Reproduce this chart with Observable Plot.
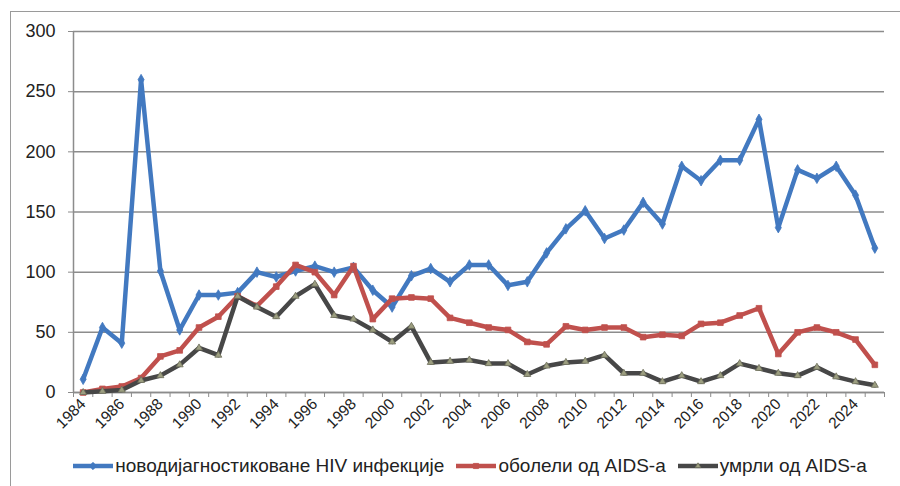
<!DOCTYPE html>
<html>
<head>
<meta charset="utf-8">
<script src="https://cdn.jsdelivr.net/npm/d3@7"></script>
<script src="https://cdn.jsdelivr.net/npm/@observablehq/plot@0.6"></script>
<style>
  html, body { margin: 0; padding: 0; background: #fff; }
  body { width: 900px; height: 486px; position: relative; overflow: hidden;
         font-family: "Liberation Sans", Arial, sans-serif; }
  #frame { position: absolute; left: 10px; top: 11px; width: 900px; height: 480px;
           border-top: 1.5px solid #9a9a9a; border-left: 1.5px solid #9a9a9a; }
  #chart { position: absolute; left: 0; top: 0; }
  #legend { position: absolute; left: 0; top: 453px; width: 900px; height: 26px;
            display: flex; align-items: center; justify-content: center;
            padding-left: 40px; box-sizing: border-box; font-size: 19px; color: #222; }
  .item { display: flex; align-items: center; margin: 0 6px; white-space: nowrap; }
  .item svg { margin-right: 2px; }
</style>
</head>
<body>
<div id="frame"></div>
<div id="chart"></div>
<div id="legend"></div>
<script>
const years = d3.range(1984, 2026);
const labelYears = [1984,1986,1988,1990,1992,1994,1996,1998,2000,2002,2004,2006,2008,2010,2012,2014,2016,2018,2020,2022,2024];
const yTicks = [0, 50, 100, 150, 200, 250, 300];

const seriesNames = ["новодијагностиковане HIV инфекције", "оболели од AIDS-а", "умрли од AIDS-а"];

const hivNew = [11,54,41,260,101,52,81,81,83,100,96,101,105,100,104,85,71,97,103,92,106,106,89,92,116,136,151,
  128,135,158,140,188,176,193,193,227,137,185,178,188,164,120];
const aidsCases = [0,3,5,12,30,35,54,63,80,72,88,106,100,81,105,61,78,79,78,62,58,54,52,42,40,55,52,
  54,54,46,48,47,57,58,64,70,32,50,54,50,44,23];
const aidsDeaths = [0,1,2,10,14,23,37,31,80,71,63,80,90,64,61,52,42,55,25,26,27,24,24,15,22,25,26,
  31,16,16,9,14,9,14,24,20,16,14,21,13,9,6];

const colors = ["#4279c0", "#c0504d", "#474747"];
const markerFill = ["#4279c0", "#c0504d", "#9c9e80"];
const symbols = ["diamond", "square", "triangle"];
const values = [hivNew, aidsCases, aidsDeaths];

const tables = values.map(v => years.map((yr, i) => ({year: yr, value: v[i]})));
const bandEdges = years.map(y => y - 0.5).concat([years[years.length - 1] + 0.5]);

const seriesMarks = tables.flatMap((t, k) => [
  Plot.line(t, {x: "year", y: "value", stroke: colors[k], strokeWidth: 4.5, strokeLinejoin: "round"}),
  Plot.dot(t, {x: "year", y: "value", symbol: () => symbols[k], r: k === 2 ? 2.6 : 3.2,
               fill: markerFill[k], stroke: k === 2 ? "#6d6f5a" : colors[k], strokeWidth: 0.8})
]);

const chart = Plot.plot({
  width: 900,
  height: 440,
  marginTop: 31,
  marginBottom: 48,
  marginLeft: 73,
  marginRight: 16,
  x: {domain: [bandEdges[0], bandEdges[bandEdges.length - 1]], label: null},
  y: {domain: [0, 300], label: null},
  style: {fontFamily: "'Liberation Sans', Arial, sans-serif", background: "transparent", overflow: "visible"},
  marks: [
    Plot.gridY(yTicks, {stroke: "#8c8c8c", strokeOpacity: 1, strokeWidth: 1.5}),
    Plot.ruleX([bandEdges[0]], {stroke: "#8c8c8c", strokeWidth: 1.5}),
    Plot.ruleY([0], {stroke: "#8c8c8c", strokeWidth: 1.5}),
    Plot.axisY(yTicks, {tickSize: 5, tickFormat: () => "", color: "#8c8c8c", label: null}),
    Plot.axisY(yTicks, {tickSize: 0, tickPadding: 18, fontSize: 18, color: "#222", label: null}),
    Plot.axisX(bandEdges, {tickSize: 5, tickFormat: () => "", color: "#8c8c8c", label: null}),
    Plot.axisX(labelYears, {tickSize: 0, tickPadding: 9, tickRotate: -45, fontSize: 15.5,
                            tickFormat: d => String(d), color: "#222", label: null}),
    ...seriesMarks
  ]
});
document.getElementById("chart").appendChild(chart);

const legend = document.getElementById("legend");
seriesNames.forEach((name, k) => {
  const item = document.createElement("div");
  item.className = "item";
  const ns = "http://www.w3.org/2000/svg";
  const svg = document.createElementNS(ns, "svg");
  svg.setAttribute("width", 40); svg.setAttribute("height", 14);
  const line = document.createElementNS(ns, "line");
  line.setAttribute("x1", 0); line.setAttribute("x2", 40);
  line.setAttribute("y1", 7); line.setAttribute("y2", 7);
  line.setAttribute("stroke", colors[k]); line.setAttribute("stroke-width", 4.5);
  svg.appendChild(line);
  const sym = d3.symbol(d3[{diamond: "symbolDiamond2", square: "symbolSquare2", triangle: "symbolTriangle2"}[symbols[k]]], k === 2 ? 22 : 34)();
  const p = document.createElementNS(ns, "path");
  p.setAttribute("d", sym);
  p.setAttribute("transform", "translate(20,7)");
  p.setAttribute("fill", markerFill[k]);
  p.setAttribute("stroke", k === 2 ? "#6d6f5a" : colors[k]);
  p.setAttribute("stroke-width", 0.8);
  svg.appendChild(p);
  item.appendChild(svg);
  const span = document.createElement("span");
  span.textContent = name;
  item.appendChild(span);
  legend.appendChild(item);
});
</script>
</body>
</html>
